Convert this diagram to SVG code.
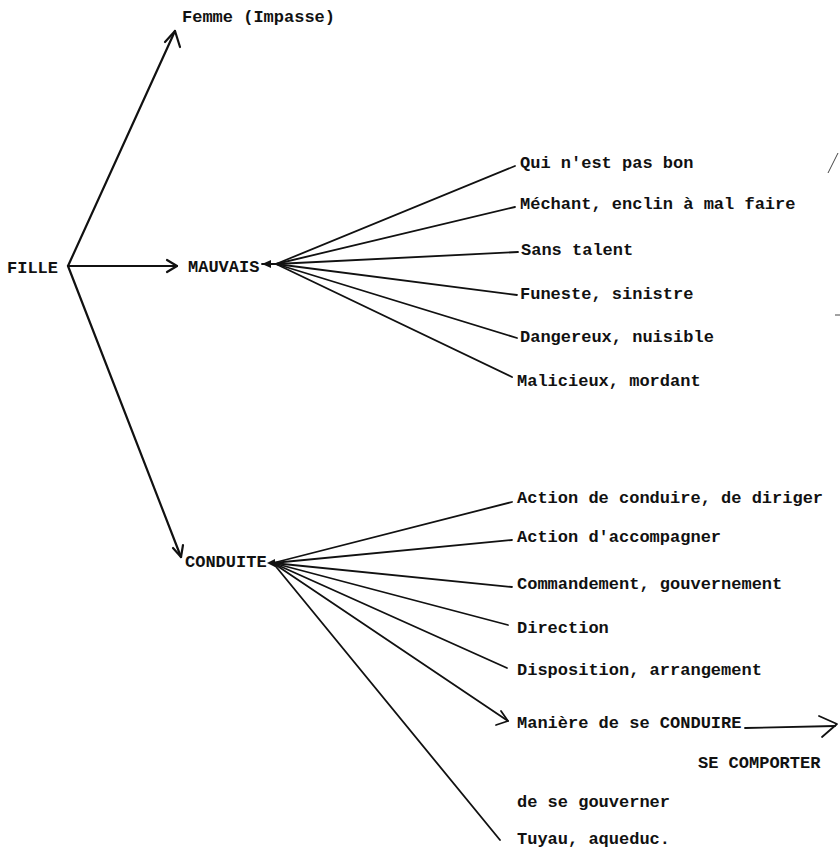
<svg xmlns="http://www.w3.org/2000/svg" width="840" height="854" viewBox="0 0 840 854">
  <style>
    .lbl{font-family:"Liberation Mono","Courier New",monospace;font-size:17px;font-weight:bold;fill:#111}
    .ln{stroke:#111;fill:none;stroke-linecap:round;stroke-linejoin:round}
    .main{stroke-width:2.2}
    .fan{stroke-width:1.8}
    .thin{stroke:#444;stroke-width:1;fill:none}
  </style>
  <rect width="840" height="854" fill="#fff"/>

  <g id="connectors">
    <!-- from FILLE -->
    <line class="ln main" x1="68" y1="266" x2="175" y2="31"/>
    <polyline class="ln main" points="165,42 175,31 180,47"/>
    <line class="ln main" x1="68" y1="266" x2="177" y2="266"/>
    <polyline class="ln main" points="167,260 177,266 167,272"/>
    <line class="ln main" x1="68" y1="266" x2="181" y2="557"/>
    <polyline class="ln main" points="173,548 181,557 183,545"/>

    <!-- MAUVAIS fan -->
    <polygon points="262,264 271,260 271,268" fill="#111"/>
    <line class="ln fan" x1="262" y1="264" x2="276" y2="264"/>
    <line class="ln fan" x1="276" y1="264" x2="515" y2="166"/>
    <line class="ln fan" x1="276" y1="264" x2="515" y2="207"/>
    <line class="ln fan" x1="276" y1="264" x2="518" y2="252"/>
    <line class="ln fan" x1="276" y1="264" x2="517" y2="295"/>
    <line class="ln fan" x1="276" y1="264" x2="517" y2="338"/>
    <line class="ln fan" x1="276" y1="264" x2="512" y2="377"/>

    <!-- CONDUITE fan -->
    <polygon points="267,563 275,559 275,567" fill="#111"/>
    <line class="ln fan" x1="273" y1="563" x2="512" y2="502"/>
    <line class="ln fan" x1="273" y1="563" x2="512" y2="540"/>
    <line class="ln fan" x1="273" y1="563" x2="512" y2="587"/>
    <line class="ln fan" x1="273" y1="563" x2="508" y2="625"/>
    <line class="ln fan" x1="273" y1="563" x2="507" y2="668"/>
    <line class="ln fan" x1="273" y1="563" x2="508" y2="721"/>
    <polyline class="ln fan" points="501,711 508,721 496,725"/>
    <line class="ln fan" x1="273" y1="563" x2="500" y2="840"/>

    <!-- CONDUIRE -> SE COMPORTER -->
    <line class="ln fan" x1="745" y1="728" x2="835" y2="726"/>
    <polyline class="ln fan" points="819,716 837,724 822,737"/>
  </g>

  <g id="n-fille"><text class="lbl" x="7" y="273">FILLE</text></g>
  <g id="n-femme"><text class="lbl" x="182" y="22">Femme (Impasse)</text></g>
  <g id="n-mauvais"><text class="lbl" x="188" y="272">MAUVAIS</text></g>
  <g id="n-conduite"><text class="lbl" x="185" y="567">CONDUITE</text></g>

  <g id="n-m1"><text class="lbl" x="520" y="168">Qui n'est pas bon</text></g>
  <g id="n-m2"><text class="lbl" x="520" y="209">Méchant, enclin à mal faire</text></g>
  <g id="n-m3"><text class="lbl" x="521" y="255">Sans talent</text></g>
  <g id="n-m4"><text class="lbl" x="520" y="299">Funeste, sinistre</text></g>
  <g id="n-m5"><text class="lbl" x="520" y="342">Dangereux, nuisible</text></g>
  <g id="n-m6"><text class="lbl" x="517" y="386">Malicieux, mordant</text></g>

  <g id="n-c1"><text class="lbl" x="517" y="503">Action de conduire, de diriger</text></g>
  <g id="n-c2"><text class="lbl" x="517" y="542">Action d'accompagner</text></g>
  <g id="n-c3"><text class="lbl" x="517" y="589">Commandement, gouvernement</text></g>
  <g id="n-c4"><text class="lbl" x="517" y="633">Direction</text></g>
  <g id="n-c5"><text class="lbl" x="517" y="675">Disposition, arrangement</text></g>
  <g id="n-c6"><text class="lbl" x="517" y="728">Manière de se CONDUIRE</text></g>
  <g id="n-c6b"><text class="lbl" x="698" y="768">SE COMPORTER</text></g>
  <g id="n-c6c"><text class="lbl" x="517" y="807">de se gouverner</text></g>
  <g id="n-c7"><text class="lbl" x="517" y="844">Tuyau, aqueduc.</text></g>

  <g id="marks">
    <line class="thin" x1="828" y1="173" x2="838" y2="153"/>
    <line class="thin" x1="835" y1="315" x2="840" y2="315"/>
  </g>
</svg>
